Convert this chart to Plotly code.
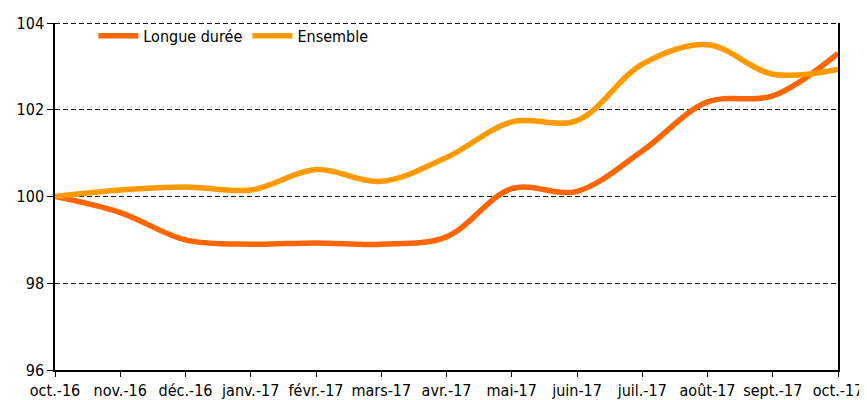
import plotly.graph_objects as go

months = ["oct.-16", "nov.-16", "déc.-16", "janv.-17", "févr.-17", "mars-17", "avr.-17",
          "mai-17", "juin-17", "juil.-17", "août-17", "sept.-17", "oct.-17"]
longue_duree = [100.0, 99.63, 99.0, 98.9, 98.93, 98.9, 99.07, 100.18, 100.12, 101.05, 102.18, 102.32, 103.3]
ensemble = [100.0, 100.15, 100.22, 100.15, 100.62, 100.35, 100.9, 101.72, 101.75, 103.05, 103.5, 102.82, 102.93]
y_ticks = [96, 98, 100, 102, 104]

x_idx = list(range(len(months)))
font_family = "DejaVu Sans Condensed, DejaVu Sans, sans-serif"

fig = go.Figure()
fig.add_trace(go.Scatter(x=x_idx, y=longue_duree, name="Longue durée", mode="lines",
                         line=dict(color="#FF6600", width=5.5, shape="spline", smoothing=1.0)))
fig.add_trace(go.Scatter(x=x_idx, y=ensemble, name="Ensemble", mode="lines",
                         line=dict(color="#FF9900", width=5.5, shape="spline", smoothing=1.0)))

fig.add_shape(type="line", xref="paper", yref="y", x0=0, x1=1, y0=104, y1=104,
              line=dict(color="black", width=2, dash="5px,3px"), layer="above")

# page body has an 8px margin; compensate so the plot sits where the reference does
fig.update_layout(
    width=859, height=392,
    margin=dict(l=47, r=29, t=14, b=30),
    plot_bgcolor="white", paper_bgcolor="white",
    font=dict(family=font_family, size=16, color="black"),
    showlegend=True,
    legend=dict(orientation="h", x=0.049, y=0.96, xanchor="left", yanchor="middle",
                bgcolor="rgba(0,0,0,0)", font=dict(size=16), itemwidth=40,
                tracegroupgap=0),
    xaxis=dict(range=[0, 12], tickvals=x_idx, ticktext=months, showgrid=False,
               showline=True, linecolor="black", linewidth=1.5, ticks="outside",
               ticklen=5, tickcolor="black", zeroline=False, fixedrange=True,
               automargin=False),
    yaxis=dict(range=[96, 104], tickvals=y_ticks, showgrid=True, griddash="5px,3px",
               gridcolor="black", gridwidth=1.2, showline=True, linecolor="black",
               linewidth=1.5, mirror=True, ticks="outside", ticklen=6, tickcolor="black",
               zeroline=False, fixedrange=True, automargin=False),
)

fig.write_html("out.html")
